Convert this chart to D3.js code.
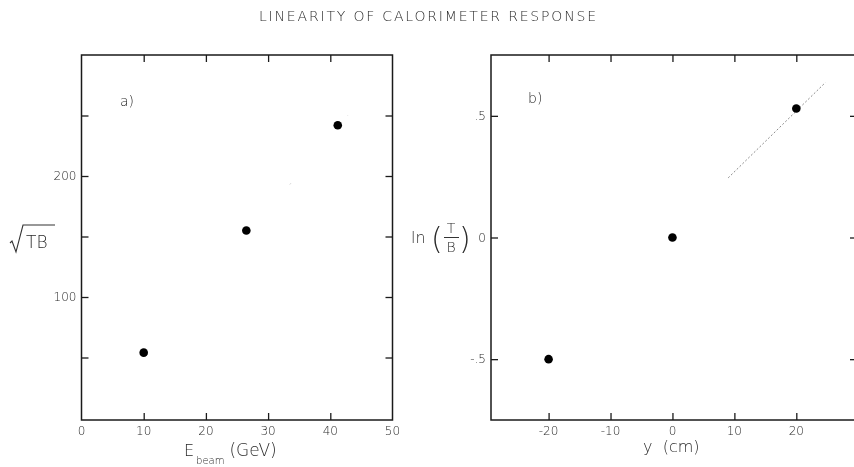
<!DOCTYPE html>
<html>
<head>
<meta charset="utf-8">
<script src="https://cdn.jsdelivr.net/npm/d3@7"></script>
<style>
  html, body { margin: 0; padding: 0; background: #fff; }
  svg { display: block; will-change: transform; }
  text { font-family: "DejaVu Sans", "Liberation Sans", sans-serif; font-weight: 200; fill: #2a2a2a; }
</style>
</head>
<body>
<svg id="chart" width="854" height="467"></svg>
<script>
// Panel a: sqrt(T*B) versus beam energy
const energyGeV = [10, 26.5, 41.2];
const sqrtTB = [54, 155, 242];
const fitA = [[33.5, 193], [42.8, 250]];
const xTicksA = [0, 10, 20, 30, 40, 50];
const yLabelTicksA = [100, 200];
const yAllTicksA = [50, 100, 150, 200, 250];

// Panel b: ln(T/B) versus vertical position
const posCm = [-20, 0, 20];
const lnTB = [-0.5, 0.0, 0.53];
const fitB = [[9, 0.245], [24.7, 0.637]];
const xTicksB = [-20, -10, 0, 10, 20];
const yTicksB = [-0.5, 0, 0.5];
const yTickLabelsB = ["-.5", "0", ".5"];

const svg = d3.select("#chart");
const ink = "#1a1a1a";

svg.append("text")
  .attr("x", 259).attr("y", 21)
  .attr("font-size", 14)
  .attr("textLength", 337).attr("lengthAdjust", "spacing")
  .text("LINEARITY OF CALORIMETER RESPONSE");

function panel(cfg) {
  const g = svg.append("g");
  const x = cfg.x, y = cfg.y;
  const [x0, x1] = x.range(), [y0, y1] = y.range();

  // fitted line (faint dotted)
  g.append("path")
    .datum(cfg.fit)
    .attr("d", d3.line().x(d => x(d[0])).y(d => y(d[1])))
    .attr("fill", "none").attr("stroke", cfg.fitColor)
    .attr("stroke-width", 1).attr("stroke-dasharray", cfg.fitDash);

  // frame
  g.append("rect")
    .attr("x", x0).attr("y", y1).attr("width", x1 - x0).attr("height", y0 - y1)
    .attr("fill", "none").attr("stroke", ink).attr("stroke-width", 1.5);

  const tk = 7;
  // bottom and top ticks pointing inward
  g.append("g").attr("transform", `translate(0,${y0})`)
    .call(d3.axisBottom(x).tickValues(cfg.xTicks).tickSize(-tk).tickFormat(""))
    .call(a => a.select(".domain").remove())
    .call(a => a.selectAll("line").attr("stroke", ink).attr("stroke-width", 1.3));
  g.append("g").attr("transform", `translate(0,${y1})`)
    .call(d3.axisTop(x).tickValues(cfg.xTicks).tickSize(-tk).tickFormat(""))
    .call(a => a.select(".domain").remove())
    .call(a => a.selectAll("line").attr("stroke", ink).attr("stroke-width", 1.3));
  // left and right ticks pointing inward
  g.append("g").attr("transform", `translate(${x0},0)`)
    .call(d3.axisLeft(y).tickValues(cfg.yTicks).tickSize(-tk).tickFormat(""))
    .call(a => a.select(".domain").remove())
    .call(a => a.selectAll("line").attr("stroke", ink).attr("stroke-width", 1.3));
  g.append("g").attr("transform", `translate(${x1},0)`)
    .call(d3.axisRight(y).tickValues(cfg.yTicks).tickSize(-tk).tickFormat(""))
    .call(a => a.select(".domain").remove())
    .call(a => a.selectAll("line").attr("stroke", ink).attr("stroke-width", 1.3));

  // tick labels
  g.selectAll(".xl").data(cfg.xLabels).join("text")
    .attr("x", d => x(d)).attr("y", y0 + 15)
    .attr("text-anchor", "middle").attr("font-size", 12).attr("fill", "#555")
    .text(d => d);
  g.selectAll(".yl").data(cfg.yLabels).join("text")
    .attr("x", x0 - 5).attr("y", d => y(d.v) + 4)
    .attr("text-anchor", "end").attr("font-size", 12).attr("fill", "#555")
    .text(d => d.t);

  // data points
  g.selectAll("circle").data(cfg.pts).join("circle")
    .attr("cx", d => x(d[0])).attr("cy", d => y(d[1]))
    .attr("r", 4.3).attr("fill", "#000");

  // panel tag
  g.append("text").attr("x", cfg.tag[0]).attr("y", cfg.tag[1])
    .attr("font-size", 14).text(cfg.tagText);
  return g;
}

const xA = d3.scaleLinear().domain([0, 50]).range([81.5, 392.5]);
const yA = d3.scaleLinear().domain([-1.65, 300]).range([420, 55]);
panel({
  x: xA, y: yA,
  xTicks: xTicksA.slice(1, 5),
  yTicks: yAllTicksA,
  xLabels: xTicksA,
  yLabels: yLabelTicksA.map(v => ({ v, t: String(v) })),
  pts: energyGeV.map((e, i) => [e, sqrtTB[i]]),
  fit: fitA, fitColor: "#c8c8c8", fitDash: "1.5,88",
  tag: [120, 106], tagText: "a)"
});

const xB = d3.scaleLinear().domain([-29.3, 29.8]).range([491, 857]);
const yB = d3.scaleLinear().domain([-0.75, 0.75]).range([420, 55]);
panel({
  x: xB, y: yB,
  xTicks: xTicksB,
  yTicks: yTicksB,
  xLabels: xTicksB,
  yLabels: yTicksB.map((v, i) => ({ v, t: yTickLabelsB[i] })),
  pts: posCm.map((p, i) => [p, lnTB[i]]),
  fit: fitB, fitColor: "#8a8a8a", fitDash: "2,2",
  tag: [528, 103], tagText: "b)"
});

// axis titles
// panel a, y: square root of T·B
svg.append("path")
  .attr("d", "M10,243 L12,241 L16,252 L23,225 L55,225")
  .attr("fill", "none").attr("stroke", "#333").attr("stroke-width", 1.1);
svg.append("text").attr("x", 26).attr("y", 248).attr("font-size", 17).text("TB");

// panel a, x: E_beam (GeV)
const ex = svg.append("text").attr("x", 184).attr("y", 456).attr("font-size", 16);
ex.append("tspan").text("E");
ex.append("tspan").attr("font-size", 10).attr("dy", 8).attr("dx", 2).text("beam");
ex.append("tspan").attr("dy", -8).attr("dx", 5).attr("font-size", 17).text("(GeV)");

// panel b, y: ln(T/B)
svg.append("text").attr("x", 411).attr("y", 243).attr("font-size", 16).text("ln");
svg.append("text").attr("x", 431).attr("y", 249).attr("font-size", 30).text("(");
svg.append("text").attr("x", 451).attr("y", 233).attr("font-size", 14)
  .attr("text-anchor", "middle").text("T");
svg.append("line").attr("x1", 444).attr("x2", 459).attr("y1", 237.5).attr("y2", 237.5)
  .attr("stroke", "#333").attr("stroke-width", 1);
svg.append("text").attr("x", 451).attr("y", 252).attr("font-size", 14)
  .attr("text-anchor", "middle").text("B");
svg.append("text").attr("x", 459).attr("y", 249).attr("font-size", 30).text(")");

// panel b, x: y (cm)
svg.append("text").attr("x", 643).attr("y", 452).attr("font-size", 16)
  .attr("xml:space", "preserve").text("y  (cm)");
</script>
</body>
</html>
